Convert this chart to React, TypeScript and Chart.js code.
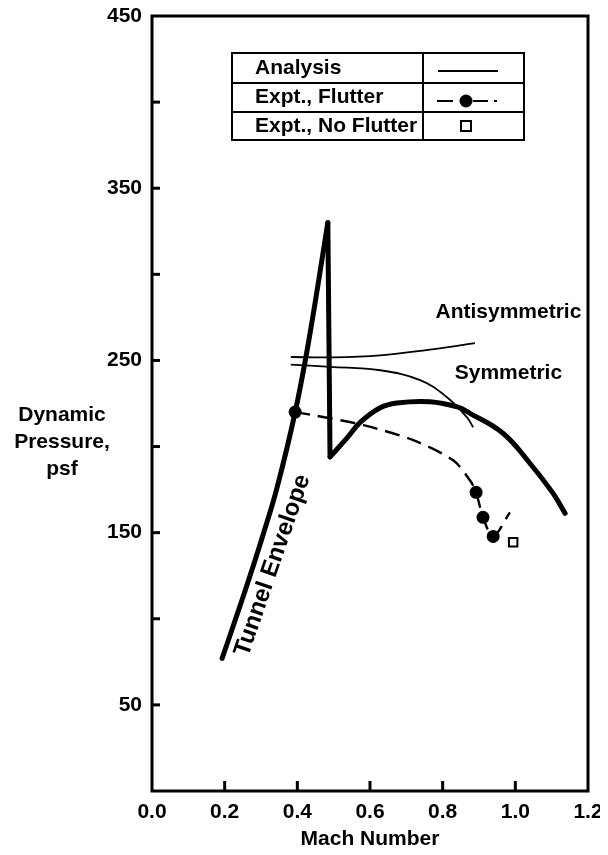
import React, { useEffect, useRef } from 'react';
import { Chart, registerables } from 'chart.js';

Chart.register(...registerables);

// ---- data (Mach number vs dynamic pressure, psf) ----
const envelopeRiseMach = [0.193, 0.259, 0.306, 0.344, 0.394, 0.432, 0.484];
const envelopeRiseQ = [77, 118, 149, 176, 220, 262, 330];
const envelopeDropMach = [0.484, 0.49];
const envelopeDropQ = [330, 194];
const envelopeHumpMach = [0.49, 0.537, 0.573, 0.628, 0.674, 0.765, 0.84, 0.875, 0.966, 1.04, 1.104, 1.137];
const envelopeHumpQ = [194, 205, 214, 222.5, 225.3, 226, 223, 219.3, 207.7, 190.3, 172.8, 161.2];

const antisymMach = [0.382, 0.49, 0.628, 0.765, 0.889];
const antisymQ = [252, 251.8, 253, 256.3, 260];
const symMach = [0.382, 0.49, 0.628, 0.738, 0.811, 0.866, 0.884];
const symQ = [247.6, 246.3, 244.3, 238.6, 228.8, 217.2, 211.2];

const flutterCurveMach = [0.394, 0.444, 0.582, 0.719, 0.829, 0.875, 0.892, 0.911, 0.939, 0.985];
const flutterCurveQ = [220, 218.2, 212.4, 203.7, 192, 180.4, 173.4, 158.9, 147.8, 161.8];
const flutterPointMach = [0.394, 0.892, 0.911, 0.939];
const flutterPointQ = [220, 173.4, 158.9, 147.8];
const noFlutterMach = [0.994];
const noFlutterQ = [144.4];

const yLabeledTicks = [50, 150, 250, 350, 450];
const yTickMarks = [50, 100, 150, 200, 250, 300, 350, 400];
const xTickMarks = [0.2, 0.4, 0.6, 0.8, 1.0];

const legendRows = ['Analysis', 'Expt., Flutter', 'Expt., No Flutter'];
const yTitleLines = ['Dynamic', 'Pressure,', 'psf'];
const xTitle = 'Mach Number';
const antisymLabel = { text: 'Antisymmetric', mach: 0.981, q: 278 };
const symLabel = { text: 'Symmetric', mach: 0.981, q: 242.4 };
const envelopeLabel = { text: 'Tunnel Envelope', mach: 0.332, q: 131, angle: -71 };

const FONT = '"Liberation Sans", Arial, Helvetica, sans-serif';
const toPts = (xs: number[], ys: number[]) => xs.map((x, i) => ({ x, y: ys[i] }));

const decorPlugin = {
  id: 'decor',
  afterDraw(chart: any) {
    const { ctx, chartArea: a, scales } = chart;
    const xs = scales.x;
    const ys = scales.y;
    ctx.save();
    ctx.strokeStyle = '#000';
    ctx.fillStyle = '#000';
    ctx.lineCap = 'butt';
    // frame
    ctx.lineWidth = 3;
    ctx.strokeRect(a.left, a.top, a.right - a.left, a.bottom - a.top);
    // inward tick marks
    yTickMarks.forEach((v) => {
      const p = ys.getPixelForValue(v);
      ctx.beginPath();
      ctx.moveTo(a.left, p);
      ctx.lineTo(a.left + 8, p);
      ctx.stroke();
    });
    xTickMarks.forEach((v) => {
      const p = xs.getPixelForValue(v);
      ctx.beginPath();
      ctx.moveTo(p, a.bottom);
      ctx.lineTo(p, a.bottom - 10);
      ctx.stroke();
    });

    ctx.font = `bold 21px ${FONT}`;
    ctx.textBaseline = 'middle';
    // y title (horizontal, stacked)
    ctx.textAlign = 'center';
    yTitleLines.forEach((t, i) => ctx.fillText(t, 54, 407 + i * 27));
    // x title
    ctx.fillText(xTitle, (a.left + a.right) / 2, 831);

    // curve labels
    ctx.fillText(antisymLabel.text, xs.getPixelForValue(antisymLabel.mach), ys.getPixelForValue(antisymLabel.q));
    ctx.fillText(symLabel.text, xs.getPixelForValue(symLabel.mach), ys.getPixelForValue(symLabel.q));
    ctx.save();
    ctx.font = `bold 24px ${FONT}`;
    ctx.translate(xs.getPixelForValue(envelopeLabel.mach), ys.getPixelForValue(envelopeLabel.q));
    ctx.rotate((envelopeLabel.angle * Math.PI) / 180);
    ctx.fillText(envelopeLabel.text, 0, 0);
    ctx.restore();

    // legend table
    const L = 224, R = 516, C = 415, T = 45;
    const rowLines = [45, 75, 104, 132];
    ctx.fillStyle = '#fff';
    ctx.fillRect(L, T, R - L, rowLines[3] - T);
    ctx.fillStyle = '#000';
    ctx.lineWidth = 2;
    ctx.strokeRect(L, T, R - L, rowLines[3] - T);
    [rowLines[1], rowLines[2]].forEach((yy) => {
      ctx.beginPath();
      ctx.moveTo(L, yy);
      ctx.lineTo(R, yy);
      ctx.stroke();
    });
    ctx.beginPath();
    ctx.moveTo(C, T);
    ctx.lineTo(C, rowLines[3]);
    ctx.stroke();
    ctx.textAlign = 'left';
    legendRows.forEach((t, i) => {
      const cy = (rowLines[i] + rowLines[i + 1]) / 2;
      ctx.fillText(t, 247, cy);
    });
    const sx = 458;
    // analysis symbol
    ctx.lineWidth = 1.8;
    ctx.beginPath();
    ctx.moveTo(sx - 28, 63);
    ctx.lineTo(sx + 32, 63);
    ctx.stroke();
    // flutter symbol
    ctx.lineWidth = 2.2;
    ctx.beginPath();
    ctx.moveTo(sx - 29, 93);
    ctx.lineTo(sx - 13, 93);
    ctx.moveTo(sx + 7, 93);
    ctx.lineTo(sx + 22, 93);
    ctx.moveTo(sx + 28, 93);
    ctx.lineTo(sx + 31, 93);
    ctx.stroke();
    ctx.beginPath();
    ctx.arc(sx, 93, 6.5, 0, Math.PI * 2);
    ctx.fill();
    // no flutter symbol
    ctx.lineWidth = 2;
    ctx.fillStyle = '#fff';
    ctx.fillRect(sx - 5, 113, 10, 10);
    ctx.strokeRect(sx - 5, 113, 10, 10);
    ctx.restore();
  },
};

export default function App() {
  const ref = useRef<HTMLCanvasElement | null>(null);
  useEffect(() => {
    if (!ref.current) return;
    const envStyle = {
      showLine: true,
      borderColor: '#000',
      borderWidth: 5,
      pointRadius: 0,
      borderCapStyle: 'round',
      borderJoinStyle: 'round',
      tension: 0.4,
    };
    const anaStyle = {
      showLine: true,
      borderColor: '#000',
      borderWidth: 1.8,
      pointRadius: 0,
      tension: 0.4,
    };
    const chart = new Chart(ref.current, {
      type: 'scatter',
      data: {
        datasets: [
          { label: 'Tunnel Envelope rise', data: toPts(envelopeRiseMach, envelopeRiseQ), ...envStyle },
          { label: 'Tunnel Envelope drop', data: toPts(envelopeDropMach, envelopeDropQ), ...envStyle },
          { label: 'Tunnel Envelope hump', data: toPts(envelopeHumpMach, envelopeHumpQ), ...envStyle },
          { label: 'Antisymmetric', data: toPts(antisymMach, antisymQ), ...anaStyle },
          { label: 'Symmetric', data: toPts(symMach, symQ), ...anaStyle },
          {
            label: 'Expt., Flutter curve',
            data: toPts(flutterCurveMach, flutterCurveQ),
            showLine: true,
            borderColor: '#000',
            borderWidth: 2.4,
            borderDash: [15, 8],
            pointRadius: 0,
            tension: 0.3,
          },
          {
            label: 'Expt., Flutter',
            data: toPts(flutterPointMach, flutterPointQ),
            showLine: false,
            pointRadius: 6.5,
            pointBackgroundColor: '#000',
            pointBorderColor: '#000',
            pointBorderWidth: 0,
          },
          {
            label: 'Expt., No Flutter',
            data: toPts(noFlutterMach, noFlutterQ),
            showLine: false,
            pointStyle: 'rect',
            pointRadius: 6,
            pointBackgroundColor: '#fff',
            pointBorderColor: '#000',
            pointBorderWidth: 2,
          },
        ],
      } as any,
      options: {
        animation: false,
        responsive: false,
        events: [],
        layout: { padding: { top: 8, right: 20, left: 0, bottom: 0 } },
        plugins: { legend: { display: false }, tooltip: { enabled: false }, title: { display: false } },
        scales: {
          x: {
            type: 'linear',
            min: 0,
            max: 1.2,
            grid: { display: false, drawTicks: false },
            border: { display: false },
            ticks: {
              stepSize: 0.2,
              autoSkip: false,
              maxRotation: 0,
              padding: 9,
              color: '#000',
              font: { family: FONT, size: 21, weight: 'bold' },
              callback: (v: any) => Number(v).toFixed(1),
            },
            afterFit: (s: any) => {
              s.height = 56;
              s.paddingLeft = 0;
              s.paddingRight = 0;
            },
          },
          y: {
            type: 'linear',
            min: 0,
            max: 450,
            grid: { display: false, drawTicks: false },
            border: { display: false },
            ticks: {
              stepSize: 50,
              autoSkip: false,
              padding: 10,
              color: '#000',
              font: { family: FONT, size: 21, weight: 'bold' },
              callback: (v: any) => (yLabeledTicks.includes(Number(v)) ? String(v) : ''),
            },
            afterFit: (s: any) => {
              s.width = 144;
              s.paddingTop = 0;
              s.paddingBottom = 0;
            },
          },
        },
      } as any,
      plugins: [decorPlugin],
    });
    return () => chart.destroy();
  }, []);
  return <canvas ref={ref} width={600} height={839} style={{ display: 'block' }} />;
}
